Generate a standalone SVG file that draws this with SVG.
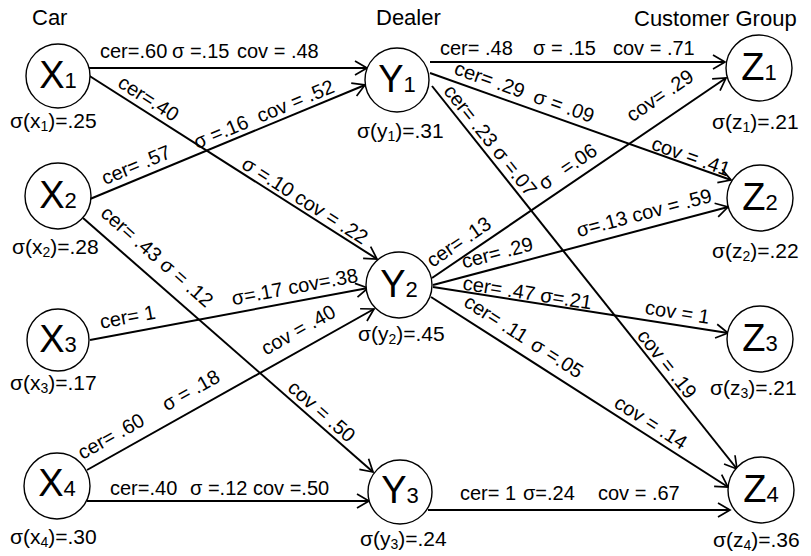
<svg xmlns="http://www.w3.org/2000/svg" width="811" height="556" viewBox="0 0 811 556">
<defs>
<style>
text{font-family:"Liberation Sans",Arial,sans-serif;fill:#000}
.hdr{font-size:22px}
.lbl{font-size:38px;text-anchor:middle}
.sub{font-size:22px}
.sig{font-size:21px}
.ssub{font-size:14px}
.e{font-size:20px}
.n circle{fill:#fff;stroke:#000;stroke-width:1.4}
.c line{stroke:#000;stroke-width:2;marker-end:url(#arr)}
</style>
<marker id="arr" markerUnits="userSpaceOnUse" markerWidth="16" markerHeight="18" viewBox="0 0 16 18" refX="14" refY="9" orient="auto">
<path d="M2,2 L14,9 L2,16" fill="none" stroke="#000" stroke-width="1.7"/>
</marker>
</defs>
<rect width="811" height="556" fill="#fff"/>
<g id="headers">
<text class="hdr" x="32" y="25">Car</text>
<text class="hdr" x="376" y="25">Dealer</text>
<text class="hdr" x="634" y="26">Customer Group</text>
</g>
<g id="connectors" class="c">
<g id="e-x1-y1"><line x1="89" y1="68" x2="367" y2="68"/>
<text class="e" y="58"><tspan x="100">cer=.60</tspan><tspan x="172">σ =.15</tspan><tspan x="237">cov = .48</tspan></text></g>
<g id="e-x1-y2"><line x1="88" y1="75" x2="377" y2="259"/>
<text class="e" transform="translate(113.3,91.1) rotate(32.48)" y="-6">cer=.40</text>
<text class="e" transform="translate(238.1,170.6) rotate(32.48)" y="-4">σ =.10 cov = .22</text></g>
<g id="e-x2-y1"><line x1="90" y1="199" x2="365" y2="85"/>
<text class="e" transform="translate(107.6,191.7) rotate(-22.52)" y="-7">cer= .57</text>
<text class="e" transform="translate(199,153.8) rotate(-22.52)" y="-5">σ =.16<tspan dx="11">cov = .52</tspan></text></g>
<g id="e-x2-y3"><line x1="83" y1="218" x2="373" y2="472"/>
<text class="e" transform="translate(90.9,224.9) rotate(41.22)" y="-13">cer= .43 σ = .12</text>
<text class="e" transform="translate(283.1,393.3) rotate(41.22)" y="-5">cov = .50</text></g>
<g id="e-x3-y2"><line x1="90" y1="340" x2="368" y2="288"/>
<text class="e" transform="translate(102.8,337.6) rotate(-10.6)" y="-9">cer= 1</text>
<text class="e" transform="translate(234.5,313) rotate(-10.6)" y="-8">σ=.17 cov=.38</text></g>
<g id="e-x4-y2"><line x1="87" y1="470" x2="374" y2="309"/>
<text class="e" transform="translate(87.9,469.5) rotate(-29.29)" y="-11">cer= .60</text>
<text class="e" transform="translate(172.5,422) rotate(-29.29)" y="-12">σ = .18</text>
<text class="e" transform="translate(271.9,366.2) rotate(-29.29)" y="-12">cov = .40</text></g>
<g id="e-x4-y3"><line x1="87" y1="501" x2="369" y2="501"/>
<text class="e" y="495"><tspan x="110">cer=.40</tspan><tspan x="190">σ =.12</tspan><tspan x="253">cov =.50</tspan></text></g>
<g id="e-y3-z4"><line x1="428" y1="510" x2="730" y2="510"/>
<text class="e" y="500"><tspan x="460">cer= 1</tspan><tspan x="523">σ=.24</tspan><tspan x="598">cov = .67</tspan></text></g>
<g id="e-y1-z1"><line x1="430" y1="62" x2="725" y2="62"/>
<text class="e" y="55"><tspan x="440">cer= .48</tspan><tspan x="533">σ = .15</tspan><tspan x="613">cov = .71</tspan></text></g>
<g id="e-y1-z2"><line x1="430" y1="73" x2="731" y2="180"/>
<text class="e" transform="translate(450.7,80.4) rotate(19.57)" y="-7">cer= .29<tspan dx="11">σ = .09</tspan></text>
<text class="e" transform="translate(649.5,151) rotate(19.57)" y="-2">cov = .41</text></g>
<g id="e-y1-z4"><line x1="432" y1="86" x2="737" y2="469"/>
<text class="e" transform="translate(438.9,94.6) rotate(51.47)" y="-5">cer= .23 σ =.07</text>
<text class="e" transform="translate(633.2,338.7) rotate(51.47)" y="-4">cov = .19</text></g>
<g id="e-y2-z1"><line x1="432" y1="278" x2="726" y2="78"/>
<text class="e" transform="translate(437,274.6) rotate(-34.22)" y="-8">cer= .13</text>
<text class="e" transform="translate(549.4,198.1) rotate(-34.22)" y="-9">σ<tspan dx="14">=.06</tspan></text>
<text class="e" transform="translate(641.2,135.7) rotate(-34.22)" y="-16">cov= .29</text></g>
<g id="e-y2-z2"><line x1="433" y1="285" x2="728" y2="207"/>
<text class="e" transform="translate(465.9,276.3) rotate(-14.81)" y="-8">cer= .29</text>
<text class="e" transform="translate(580.9,245.9) rotate(-14.81)" y="-9">σ=.13 cov = .59</text></g>
<g id="e-y2-z3"><line x1="433" y1="287" x2="728" y2="333"/>
<text class="e" transform="translate(461.7,291.5) rotate(8.86)" y="-2">cer= .47 σ=.21</text>
<text class="e" transform="translate(643.4,319.8) rotate(8.86)" y="-6">cov = 1</text></g>
<g id="e-y2-z4"><line x1="431" y1="297" x2="728" y2="487"/>
<text class="e" transform="translate(457.1,313.7) rotate(32.61)" y="-10">cer= .11<tspan dx="8">σ =.05</tspan></text>
<text class="e" transform="translate(609.6,411.2) rotate(32.61)" y="-6">cov = .14</text></g>
</g>
<g id="x1" class="n"><circle cx="58" cy="76" r="32"/><text class="lbl" x="58" y="88">X<tspan class="sub">1</tspan></text><text class="sig" x="10" y="128">σ(x<tspan class="ssub" dy="3">1</tspan><tspan dy="-3">)=.25</tspan></text></g>
<g id="x2" class="n"><circle cx="58" cy="196" r="33"/><text class="lbl" x="58" y="208">X<tspan class="sub">2</tspan></text><text class="sig" x="12" y="254">σ(x<tspan class="ssub" dy="3">2</tspan><tspan dy="-3">)=.28</tspan></text></g>
<g id="x3" class="n"><circle cx="58" cy="340" r="31"/><text class="lbl" x="58" y="352">X<tspan class="sub">3</tspan></text><text class="sig" x="10" y="390">σ(x<tspan class="ssub" dy="3">3</tspan><tspan dy="-3">)=.17</tspan></text></g>
<g id="x4" class="n"><circle cx="57" cy="486" r="33"/><text class="lbl" x="57" y="496">X<tspan class="sub">4</tspan></text><text class="sig" x="10" y="544">σ(x<tspan class="ssub" dy="3">4</tspan><tspan dy="-3">)=.30</tspan></text></g>
<g id="y1" class="n"><circle cx="397" cy="80" r="32"/><text class="lbl" x="397" y="92">Y<tspan class="sub">1</tspan></text><text class="sig" x="357" y="138">σ(y<tspan class="ssub" dy="3">1</tspan><tspan dy="-3">)=.31</tspan></text></g>
<g id="y2" class="n"><circle cx="399" cy="285" r="33"/><text class="lbl" x="399" y="297">Y<tspan class="sub">2</tspan></text><text class="sig" x="358" y="341">σ(y<tspan class="ssub" dy="3">2</tspan><tspan dy="-3">)=.45</tspan></text></g>
<g id="y3" class="n"><circle cx="400" cy="492" r="32"/><text class="lbl" x="400" y="503">Y<tspan class="sub">3</tspan></text><text class="sig" x="360" y="546">σ(y<tspan class="ssub" dy="3">3</tspan><tspan dy="-3">)=.24</tspan></text></g>
<g id="z1" class="n"><circle cx="759" cy="68" r="33"/><text class="lbl" x="759" y="80">Z<tspan class="sub">1</tspan></text><text class="sig" x="712" y="129">σ(z<tspan class="ssub" dy="3">1</tspan><tspan dy="-3">)=.21</tspan></text></g>
<g id="z2" class="n"><circle cx="760" cy="198" r="33"/><text class="lbl" x="760" y="210">Z<tspan class="sub">2</tspan></text><text class="sig" x="712" y="258">σ(z<tspan class="ssub" dy="3">2</tspan><tspan dy="-3">)=.22</tspan></text></g>
<g id="z3" class="n"><circle cx="760" cy="339" r="33"/><text class="lbl" x="760" y="351">Z<tspan class="sub">3</tspan></text><text class="sig" x="710" y="395">σ(z<tspan class="ssub" dy="3">3</tspan><tspan dy="-3">)=.21</tspan></text></g>
<g id="z4" class="n"><circle cx="761" cy="490" r="33"/><text class="lbl" x="761" y="502">Z<tspan class="sub">4</tspan></text><text class="sig" x="713" y="547">σ(z<tspan class="ssub" dy="3">4</tspan><tspan dy="-3">)=.36</tspan></text></g>
</svg>
